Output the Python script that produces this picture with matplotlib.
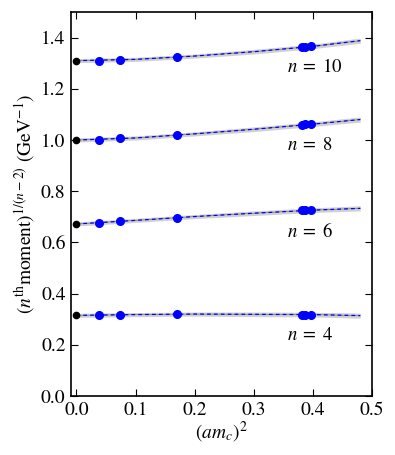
import matplotlib
matplotlib.use("Agg")
import matplotlib.pyplot as plt
import numpy as np

plt.rcParams['font.family'] = ['STIXGeneral', 'Liberation Serif', 'DejaVu Serif']
plt.rcParams['mathtext.fontset'] = 'stix'

# lattice data: (a m_c)^2 values
x_data = [0.038, 0.074, 0.170, 0.381, 0.387, 0.396]
n_labels = [r"$n\;=\;4$", r"$n\;=\;6$", r"$n\;=\;8$", r"$n\;=\;10$"]
y_data = {
    4: [0.318, 0.318, 0.320, 0.318, 0.318, 0.318],
    6: [0.674, 0.683, 0.697, 0.725, 0.725, 0.726],
    8: [1.000, 1.006, 1.021, 1.060, 1.061, 1.063],
    10: [1.309, 1.312, 1.323, 1.362, 1.364, 1.367],
}
# continuum values at a=0
y_cont = {4: 0.315, 6: 0.672, 8: 1.000, 10: 1.310}
# fit curves
x_fit = [0.0, 0.1, 0.2, 0.3, 0.4, 0.48]
y_fit = {
    4: [0.315, 0.318, 0.320, 0.319, 0.318, 0.314],
    6: [0.672, 0.686, 0.701, 0.714, 0.726, 0.733],
    8: [1.000, 1.008, 1.024, 1.042, 1.062, 1.080],
    10: [1.310, 1.315, 1.328, 1.345, 1.366, 1.388],
}
band_halfwidth = [0.008, 0.008, 0.008, 0.009, 0.009, 0.010]
label_y = {4: 0.238, 6: 0.642, 8: 0.977, 10: 1.285}

fig = plt.figure(figsize=(3.95, 4.55), dpi=100)
ax = fig.add_axes([0.18, 0.1297, 0.762, 0.8439])

for i, n in enumerate([4, 6, 8, 10]):
    yf = np.array(y_fit[n])
    hw = np.array(band_halfwidth)
    ax.fill_between(x_fit, yf - hw, yf + hw, color='#d0d0d0', lw=0, zorder=1)
    ax.plot(x_fit, yf, color='#777777', lw=0.5, zorder=2)
    ax.plot(x_fit, yf, color='b', lw=0.9, ls='--', dashes=(3, 2.5), zorder=3)
    ax.plot(x_data, y_data[n], 'o', color='b', ms=5.5, mec='b', zorder=4)
    ax.plot([0.0], [y_cont[n]], 'o', color='k', ms=4.5, zorder=5)
    ax.text(0.356, label_y[n], n_labels[i], fontsize=13.5, va='center', ha='left')

ax.set_xlim(-0.009, 0.5)
ax.set_ylim(0.0, 1.5)
ax.set_xticks([0.0, 0.1, 0.2, 0.3, 0.4, 0.5])
ax.set_yticks([0.0, 0.2, 0.4, 0.6, 0.8, 1.0, 1.2, 1.4])
ax.tick_params(direction='in', top=True, right=True, length=5, width=0.8, labelsize=14, pad=4)
for s in ax.spines.values():
    s.set_linewidth(1.2)
ax.set_xlabel(r'$(am_c)^2$', fontsize=14, labelpad=1)
ax.set_ylabel(r'$(n^{\rm th}{\rm moment})^{1/(n-2)}$ (GeV$^{-1}$)', fontsize=14, labelpad=2)

fig.savefig('out.png', dpi=100)
